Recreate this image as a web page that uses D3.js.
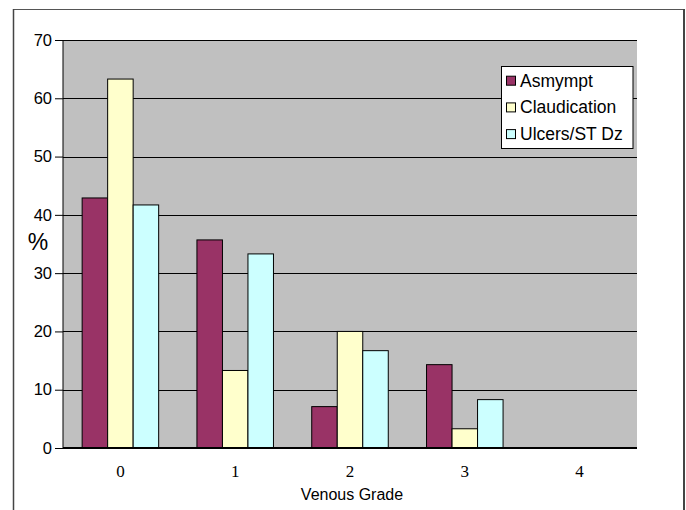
<!DOCTYPE html>
<html><head><meta charset="utf-8">
<script src="https://cdn.jsdelivr.net/npm/d3@7"></script>
<style>body{margin:0;background:#fff}svg{display:block}</style>
</head><body>
<script>
const categories = ["0","1","2","3","4"];
const seriesNames = ["Asmympt","Claudication","Ulcers/ST Dz"];
const asymptValues = [42.9, 35.7, 7.1, 14.3, 0];
const claudValues = [63.3, 13.3, 20.0, 3.3, 0];
const ulcerValues = [41.7, 33.3, 16.7, 8.3, 0];
const yTicks = [0,10,20,30,40,50,60,70];
const colors = ["#993366","#FFFFCC","#CCFFFF"];
const series = [asymptValues, claudValues, ulcerValues];

(function(){
const W = 686, H = 510;
const sans = "Liberation Sans, Arial, sans-serif";
const svg = d3.select("body").append("svg").attr("width", W).attr("height", H);

// outer frame
svg.append("line").attr("x1",13).attr("x2",684).attr("y1",9.5).attr("y2",9.5).attr("stroke","#555").attr("stroke-width",1);
svg.append("line").attr("x1",13.5).attr("x2",13.5).attr("y1",9).attr("y2",H).attr("stroke","#444").attr("stroke-width",1.5);
svg.append("line").attr("x1",684).attr("x2",684).attr("y1",9).attr("y2",H).attr("stroke","#444").attr("stroke-width",2);

const pL = 63, pR = 637, pT = 40, pB = 448;
const x = d3.scaleBand().domain(categories).range([pL, pR]).paddingInner(0).paddingOuter(0);
const y = d3.scaleLinear().domain([0,70]).range([pB, pT]);
const inner = d3.scaleBand().domain(seriesNames)
  .range([x.bandwidth()*0.1667, x.bandwidth()*0.8333]).padding(0);

svg.append("rect").attr("x",pL).attr("y",pT).attr("width",pR-pL).attr("height",pB-pT).attr("fill","#C0C0C0");

// gridlines
svg.append("g").selectAll("line").data(yTicks.filter(d=>d>0)).join("line")
  .attr("x1",pL).attr("x2",pR)
  .attr("y1",d=>Math.round(y(d))+0.5).attr("y2",d=>Math.round(y(d))+0.5)
  .attr("stroke","#000").attr("stroke-width",1);

// bars
categories.forEach((c,i)=>{
  seriesNames.forEach((s,j)=>{
    const v = series[j][i];
    if (v <= 0) return;
    svg.append("rect")
      .attr("x", x(c)+inner(s))
      .attr("y", y(v))
      .attr("width", inner.bandwidth())
      .attr("height", pB - y(v))
      .attr("fill", colors[j]).attr("stroke","#000").attr("stroke-width",1);
  });
});

// y axis
const yAxis = d3.axisLeft(y).tickValues(yTicks).tickSize(8).tickPadding(3);
const ga = svg.append("g").attr("transform",`translate(${pL},0)`).call(yAxis);
ga.select(".domain").attr("stroke","#000").attr("d",`M-0,${pB}V${pT}`);
ga.selectAll(".tick line").attr("stroke","#000");
ga.selectAll(".tick text").attr("font-family",sans).attr("font-size",16.5).attr("fill","#000");

// x axis
const xAxis = d3.axisBottom(x).tickSize(0).tickPadding(17);
const gx = svg.append("g").attr("transform",`translate(0,${pB})`).call(xAxis);
gx.select(".domain").attr("stroke","#000").attr("stroke-width",2).attr("d",`M${pL},0H${pR}`);
gx.selectAll(".tick text").attr("font-family","Liberation Serif, Times New Roman, serif").attr("font-size",17).attr("fill","#000");

svg.append("text").attr("x",352).attr("y",500).attr("text-anchor","middle")
  .attr("font-family",sans).attr("font-size",16).text("Venous Grade");
svg.append("text").attr("x",38).attr("y",250).attr("text-anchor","middle")
  .attr("font-family",sans).attr("font-size",23).text("%");

// legend
const lg = svg.append("g");
lg.append("rect").attr("x",501.5).attr("y",66.5).attr("width",131.5).attr("height",82).attr("fill","#fff").attr("stroke","#000");
seriesNames.forEach((s,j)=>{
  const cy = 80.7 + j*26.7;
  lg.append("rect").attr("x",506.5).attr("y",cy-4.5).attr("width",9).attr("height",9).attr("fill",colors[j]).attr("stroke","#000");
  lg.append("text").attr("x",520).attr("y",cy+6).attr("font-family",sans).attr("font-size",17.5).text(s);
});
})();
</script>
</body></html>
